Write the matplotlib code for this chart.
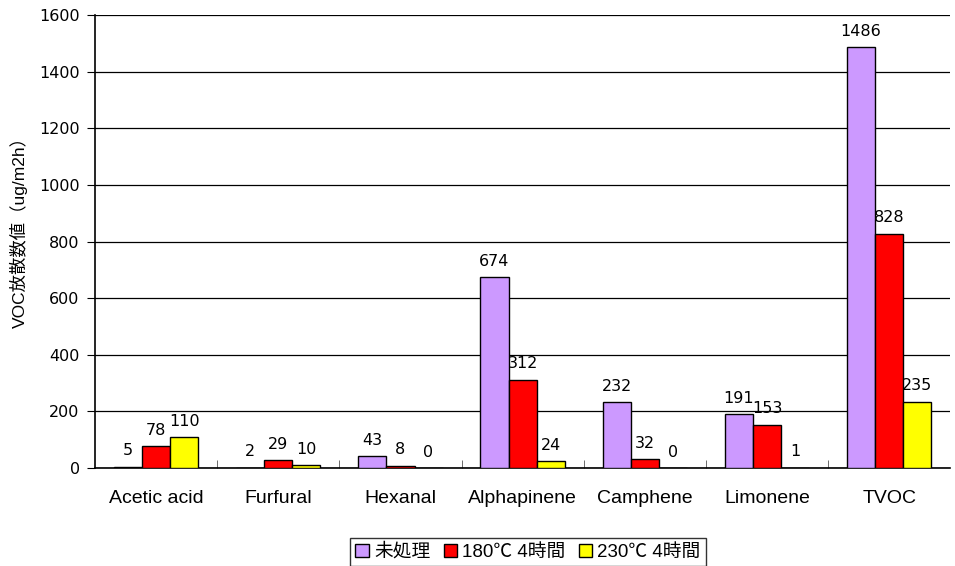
import numpy as np
import matplotlib
matplotlib.use('Agg')
import matplotlib.pyplot as plt

plt.rcParams['font.family'] = ['DejaVu Sans', 'Noto Sans CJK JP']

categories = ['Acetic acid', 'Furfural', 'Hexanal', 'Alphapinene', 'Camphene', 'Limonene', 'TVOC']
untreated = [5, 2, 43, 674, 232, 191, 1486]
t180 = [78, 29, 8, 312, 32, 153, 828]
t230 = [110, 10, 0, 24, 0, 1, 235]
series_names = ['未処理', '180℃ 4時間', '230℃ 4時間']
colors = ['#CC99FF', '#FF0000', '#FFFF00']

latin_cjk = ['Liberation Sans', 'Noto Sans CJK JP']

fig = plt.figure(figsize=(9.55, 5.66), dpi=100)
ax = fig.add_axes([0.0995, 0.173, 0.8955, 0.8005])

x = np.arange(len(categories))
w = 0.23
series = [untreated, t180, t230]
for i, (vals, name, c) in enumerate(zip(series, series_names, colors)):
    bars = ax.bar(x + (i - 1) * w, vals, w, color=c, edgecolor='black', linewidth=1.0,
                  label=name, zorder=3)
    for b, v in zip(bars, vals):
        ax.annotate(str(v), (b.get_x() + b.get_width() / 2, v), xytext=(0, 6),
                    textcoords='offset points', ha='center', va='bottom', fontsize=11.5)

ax.set_xlim(-0.5, len(categories) - 0.5)
ax.set_ylim(0, 1600)
ax.set_yticks(np.arange(0, 1601, 200))
ax.yaxis.grid(True, color='black', linewidth=0.9, zorder=0)
ax.set_axisbelow(True)

ax.set_xticks(x)
ax.set_xticklabels(categories, fontsize=14, family='Liberation Sans')
ax.set_xticks(np.arange(0.5, len(categories) - 0.5, 1), minor=True)
ax.tick_params(axis='x', which='major', length=0, pad=16)
ax.tick_params(axis='x', which='minor', direction='in', length=6, color='#555555')
ax.tick_params(axis='y', direction='out', length=6, labelsize=11.5, pad=5)

for s in ['top', 'right']:
    ax.spines[s].set_visible(False)
ax.spines['left'].set_linewidth(1.2)
ax.spines['bottom'].set_linewidth(1.2)

ax.set_ylabel('VOC放散数値（ug/m2h）', fontsize=12.5, family=latin_cjk)
ax.yaxis.set_label_coords(-0.078, 0.53)

leg = fig.legend(loc='center', bbox_to_anchor=(528 / 955, 1 - 552 / 566), ncol=3,
                 prop={'family': latin_cjk, 'size': 13.5},
                 frameon=True, fancybox=False, edgecolor='black',
                 handlelength=0.7, handleheight=0.7, handletextpad=0.3,
                 columnspacing=0.7, borderpad=0.3, borderaxespad=0)
leg.get_frame().set_linewidth(1.0)

fig.savefig('out.png', dpi=100)
